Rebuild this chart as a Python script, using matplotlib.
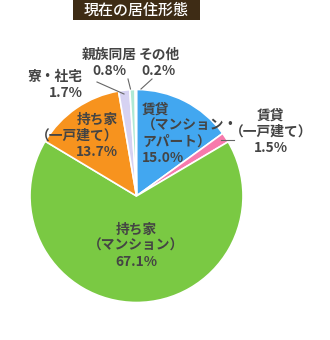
import matplotlib
matplotlib.use("Agg")
import matplotlib.pyplot as plt
from matplotlib.patches import Rectangle

plt.rcParams['font.family'] = ['Noto Sans CJK JP', 'DejaVu Sans']

# data
labels = ["賃貸\n（マンション・\nアパート）", "賃貸\n（一戸建て）", "持ち家\n（マンション）",
          "持ち家\n（一戸建て）", "寮・社宅", "親族同居", "その他"]
values = [15.0, 1.5, 67.1, 13.7, 1.7, 0.8, 0.2]
colors = ["#42a7f0", "#f77aac", "#7ac943", "#f7931e", "#d6d2f2", "#aee9d4", "#f7c5ac"]
title = "現在の居住形態"

W, H = 330, 340
TXT = "#444444"

def Y(y):
    # pixel row -> axis coordinate
    return H - y

fig = plt.figure(figsize=(W / 100, H / 100), dpi=100)
ax = fig.add_axes([0, 0, 1, 1])

ax.pie(values, colors=colors, startangle=90, counterclock=False,
       center=(136.5, Y(196)), radius=106.5,
       wedgeprops=dict(edgecolor="white", linewidth=1.2))
ax.set_xlim(0, W)
ax.set_ylim(0, H)
ax.set_aspect("equal")
ax.axis("off")

# title box
ax.add_patch(Rectangle((73, Y(20)), 127, 20, facecolor="#3e2c15", edgecolor="none"))
ax.text(136.5, Y(10), title, color="white", fontsize=10.8, ha="center", va="center",
        fontweight="medium")

pct = ["%.1f%%" % v for v in values]
fs = 9.9

# labels inside the pie
ax.text(142, Y(134), labels[0] + "\n" + pct[0], ha="left", va="center", fontsize=fs,
        fontweight="bold", color=TXT, linespacing=1.2)
ax.text(118, Y(136), labels[3] + "\n" + pct[3], ha="right", va="center", fontsize=fs,
        fontweight="bold", color=TXT, linespacing=1.2, multialignment="right")
ax.text(136.5, Y(246), labels[2] + "\n" + pct[2], ha="center", va="center", fontsize=fs,
        fontweight="bold", color=TXT, linespacing=1.2)

# labels outside
ax.text(271, Y(132), labels[1] + "\n" + pct[1], ha="center", va="center", fontsize=fs,
        fontweight="bold", color=TXT, linespacing=1.2)
ax.text(83, Y(85), labels[4] + "\n" + pct[4], ha="right", va="center", fontsize=fs,
        fontweight="bold", color=TXT, linespacing=1.2, multialignment="right")
ax.text(109, Y(63), labels[5] + "\n" + pct[5], ha="center", va="center", fontsize=fs,
        fontweight="bold", color=TXT, linespacing=1.2)
ax.text(159, Y(63), labels[6] + "\n" + pct[6], ha="center", va="center", fontsize=fs,
        fontweight="bold", color=TXT, linespacing=1.2)

# leader lines
lc = "#666666"
ax.plot([221, 234], [Y(140), Y(140)], color=lc, lw=0.8)
ax.plot([97, 124], [Y(82), Y(94)], color=lc, lw=0.8)
ax.plot([128, 130.5], [Y(79), Y(89)], color=lc, lw=0.8)
ax.plot([152, 141], [Y(79), Y(89)], color=lc, lw=0.8)

fig.savefig("out.png", dpi=100, facecolor="white")
